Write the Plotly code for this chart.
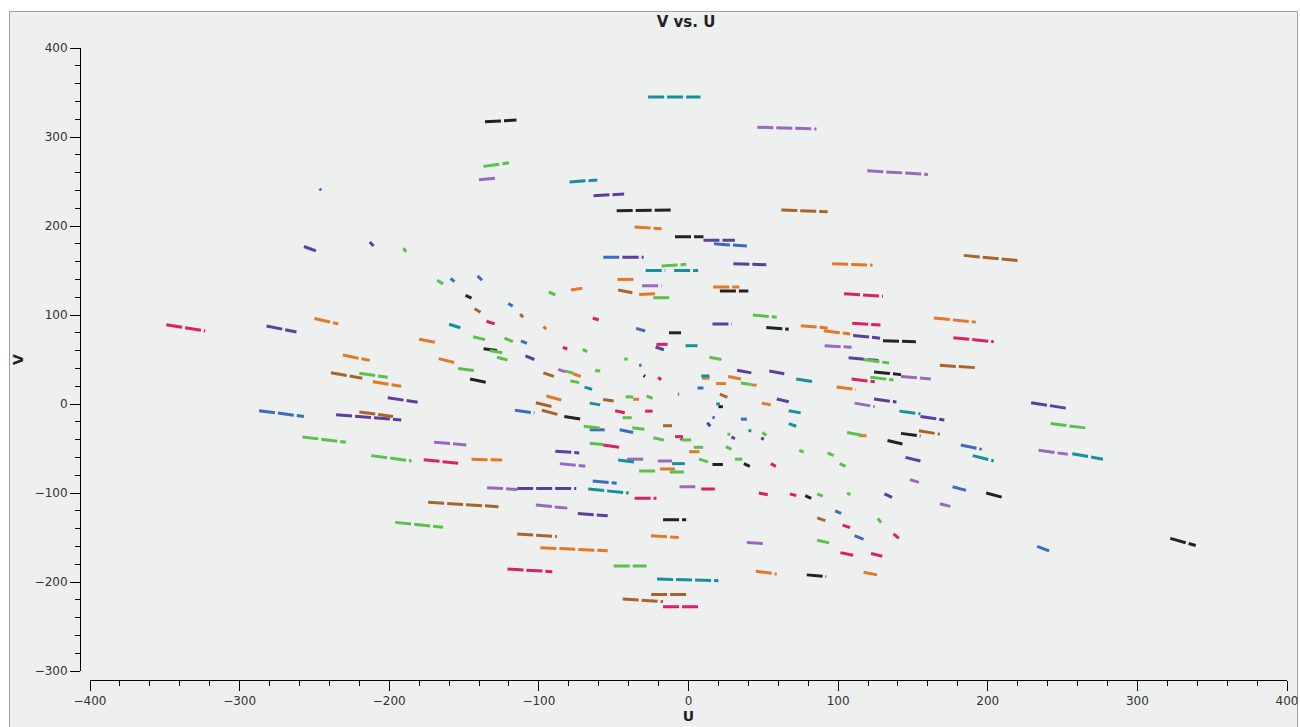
import plotly.graph_objects as go

# Each segment: (u_start, u_end, v_start, v_end)
black = [(-136,-115,317,319),(-48,-10,217,218),(-9,10,188,188),(21,40,127,127),(-13,-5,80,80),
         (52,67,86,84),(130,152,71,70),(124,142,36,33),(-149,-145,122,119),(-137,-128,62,60),
         (-146,-134,28,24),(-30,-29,32,31),(20,23,-3,-3),(-83,-72,-14,-17),(142,155,-33,-36),
         (133,143,-41,-45),(16,23,-68,-68),(37,41,-67,-70),(-17,-1.5,-130,-130),(79,92,-192,-194),
         (78,82,-103,-106),(199,210,-100,-105),(322,339,-151,-159)]
blue = [(-246.5,-245.5,242,240),(-57,-44,165,165),(17,39,180,177.5),(-159,-156.4,141,137.4),
        (-141,-138,144,139),(-120.5,-117.5,113,110),(-35,-29,85,82),(-112,-108,71,68),
        (-33,-31.4,43.5,43.5),(6,10,18,18),(-116,-103,-7,-10),(-287,-257,-7.5,-14),(-66,-56,-29,-29),
        (-46,-37,-29,-32),(16,17.6,-15,-15.5),(35,39,-17,-17),(182,196,-46,-51),(-64,-48,-86.5,-89),
        (176.5,185.5,-93,-97),(98,102,-120,-123),(111,117,-148,-152),(233,241,-160,-165)]
indigo = [(-63.5,-43,234,236),(10,31,184,184),(-44,-30,165,165),(30,52,157.6,156.5),(-257,-249,177,172),
          (-213,-210.5,182,177.5),(16,29,90,90),(110,128,77,74),(107,127,52,49),(124,139,5.6,2.2),
          (155,171,-14,-18),(145,155,-60,-64),(229,253.5,1.5,-5),(-282,-262,87.6,81),(-201,-181,7,2),
          (-235.5,-192,-12,-18),(-109,-103,54,50),(-22,-16.5,64,61),(32.5,42,38,35),(54,64,37,34),
          (59,67,5.6,2.6),(12.5,14.6,-21,-25),(28.7,31,-37,-39),(48.6,50.3,-38,-40),(-5.3,-4.4,-39,-40),
          (-89,-73,-53,-55),(-114.5,-75,-95,-95),(-74,-54,-123,-125.5),(131,136,-101,-105)]
lilac = [(46,85.5,311,309),(-140,-128,252,254),(119.5,160,262,258),(-31,-18,133,133),(142,162,31,28),
         (91,109,65.5,63.7),(111,124.5,1,-3),(148,154,-85,-88),(234,253.5,-52,-56.5),(-170,-148.5,-43,-46),
         (-87,-82,39,36),(-7.2,-6.2,11,11),(-20.5,-11,-64,-64),(-41,-30,-62,-62),(-86,-69,-67,-70),
         (-6,4.5,-93,-93),(-134.6,-114.5,-94,-96),(-102,-81,-113.5,-117),(39,51.5,-155.5,-157),
         (168,175,-112,-115)]
orange = [(-36,-18,199,197),(-47.5,-35.5,140,140),(-33,-22,123,124),(16.5,34,131.5,131.5),(96,123,157.6,156),
          (164,192,96.6,92),(-78.6,-71,128,130),(-97,-95,87,84),(75,93,88,85.4),(90.5,108,82.4,78.7),
          (-250,-234,96,90),(-231,-213,55,49),(-211,-192,25,20),(-180,-168,72.7,69),(-167,-155,51,46),
          (-77,-72,34,31),(9,14,29,29),(18.5,25,23,23),(26.5,35,31,28),(42,45.5,21.5,21),(99,112,19,16.5),
          (-95,-85,9,4.5),(-37,-33,5.3,5.3),(49,55,1,-1),(114,119,-35.6,-35.6),(0.4,7.3,-53.6,-53.6),
          (-19,-9,-73,-73),(-145,-124.5,-62,-63),(-25,-6.5,-148,-150),(-99,-54,-161.5,-165),
          (45,59,-188,-191),(117,126,-189,-192)]
brown = [(62,93,218,216),(184,221,167,161),(-47,-37.5,128,125),(168,192,43.4,40.8),(-143,-139,107,103),
         (-112.5,-110.5,101,97.4),(-239,-218,35,29),(-220,-197.5,-9,-14),(-97,-90,35,31),(21,26,11,7.5),
         (-102,-91,1.5,-3),(-98,-87,-7,-12),(-57,-50,5,3.4),(-17,-11,-24.4,-24.4),(154,168,-30,-34),
         (-174,-127,-110.4,-115.4),(-114.5,-88,-146,-149),(86,91.4,-128,-131),(-25,-1.5,-214,-214),
         (-44,-17,-219,-222)]
green = [(-137,-120,267,271),(-190.5,-188.7,175,171),(-18,-1.5,155,157),(-23.6,-11,119.4,119.4),
         (-168,-164,139,135),(-93.4,-89,126,122.5),(43,59,100,97.4),(117,134,50,46),(121.5,137,30,27),
         (-144,-136,75.6,72.3),(-154,-142,40,37.4),(-133,-124.5,60,57.6),(-123,-117.4,74,70),
         (-128,-121,52.5,49.4),(-70.7,-67.7,61.4,58.8),(14,22,52.5,50),(-43,-40.6,50.5,50.5),
         (-62.4,-59,37.4,37.4),(-82,-77,37,34.5),(-79,-73,26,24),(-42,-37,8,8),(-28,-24,9,6.4),
         (35,42,23.6,22),(-220,-201,34.5,30),(-258,-229,-37,-43),(-212,-185,-58,-64),(-196,-164,-133,-138.5),
         (-44,-38,-15.4,-15.4),(-70,-59,-25,-27),(-37.6,-29.4,-26.6,-28.4),(-4.4,1.8,-40.4,-40.4),
         (-23.6,-16.5,-38,-40.4),(3.5,9.8,-48.7,-48.7),(25,28.7,-48,-51),(31,36,-62,-62),(7,13,-62,-65),
         (-33,-21,-75.3,-75.3),(-12.5,-3,-76.4,-76.4),(-66,-57,-44,-45.5),(106,116,-32,-35),(26,28,-34,-34),
         (49.3,52,-32,-35),(74,77,-52,-54),(93,97,-55,-58),(101,105,-67,-70),(242,266,-22,-27),
         (-50,-28,-182,-182),(86,89.8,-101,-103.4),(106,108.2,-100,-102),(86,94,-153,-156),
         (126.5,128.7,-128.4,-133.3)]
teal = [(-27,8,345,345),(-79.5,-61,249.4,251.7),(-28.6,-15.5,150,150),(-9.6,6.5,150,150),
        (-160,-152.5,89.6,85.7),(-2,6,65.5,65.5),(8.5,14,31.5,31.5),(72,84,28,25),(-69.5,-64.4,19,16.5),
        (18.5,21,0,0),(-66,-59,1,-1),(141,155,-8,-11),(67,75,-7.5,-10),(67,72,-22,-25),(40,42,-30,-30),
        (-11,-2.5,-67,-67),(-47,-35,-63,-65.5),(190,204,-58,-64),(256.5,277,-56,-62),(-67,-40,-95.5,-100),
        (-21,20,-196.6,-198.5)]
crimson = [(104,130,124,121),(177,204,74.5,70),(109.4,128.3,90.7,88.8),(-349,-323,89,82),(-135,-129.5,93,90),
           (-84,-81,63.7,61.8),(-64,-60,96.6,94.4),(-21.4,-14,67,67),(109,124.5,28,25),(-20.3,-18.3,30,27),
           (-49,-42.6,-7.5,-9.8),(-29,-24,-8,-8),(-9,-3.6,-36.7,-36.7),(-57,-46,-46,-48.7),(55,58.4,-67,-70),
           (-177,-154,-62.6,-66.6),(8.5,17.6,-95.5,-95.5),(-36,-21.4,-106,-106),(-121,-91,-185.4,-188.4),
           (-17,6.5,-227.8,-227.8),(47,53,-100,-102),(67.7,72,-101,-103),(103,108,-136,-139),
           (101.5,110,-167,-170),(122,129.5,-168,-171),(137,140.6,-146,-151)]

groups = [(black, "#222222"), (blue, "#3a6cc0"), (indigo, "#5a3ea0"), (lilac, "#9a68bf"),
          (orange, "#e4782a"), (brown, "#a8652a"), (green, "#5cc04c"), (teal, "#16909c"),
          (crimson, "#dc1f66")]

fig = go.Figure()
for segs, col in groups:
    xs, ys = [], []
    for u0, u1, v0, v1 in segs:
        xs += [u0, u1, None]
        ys += [v0, v1, None]
    fig.add_trace(go.Scatter(x=xs, y=ys, mode="lines",
                             line=dict(color=col, width=3, dash="16px,3px"),
                             showlegend=False, hoverinfo="skip"))

W, H = 1300, 727
L, T = 80, 48
R = W - 1287
B = H - 680
pw, ph = W - L - R, H - T - B

def px(x):  # page pixel x -> paper fraction
    return (x - L) / pw

def py(y):  # page pixel y -> paper fraction
    return (H - B - y) / ph

fig.add_shape(type="rect", xref="paper", yref="paper", x0=px(9.5), x1=px(1297.5), y0=py(760), y1=py(11.5),
              line=dict(color="#a0a0a0", width=1), fillcolor="#eeefef", layer="below")

tickfont = dict(family="DejaVu Sans", size=12, color="#333333")
fig.update_layout(
    width=W, height=H, autosize=False,
    margin=dict(l=L, r=R, t=T, b=B, autoexpand=False),
    paper_bgcolor="white", plot_bgcolor="rgba(0,0,0,0)",
    title=dict(text="<b>V vs. U</b>", x=px(686), xref="paper", xanchor="center",
               y=1 - 22 / H, yanchor="middle",
               font=dict(family="DejaVu Sans", size=15, color="#222222")),
    xaxis=dict(domain=[px(90), 1], anchor="free", position=0, range=[-400, 400], automargin=False,
               tickmode="linear", tick0=-400, dtick=100, ticks="outside", ticklen=10, tickwidth=1,
               tickcolor="black", showline=True, linecolor="black", linewidth=1, showgrid=False,
               zeroline=False, tickfont=tickfont,
               minor=dict(dtick=20, ticks="outside", ticklen=5, tickcolor="black", showgrid=False),
               title=dict(text="<b>U</b>", standoff=2, font=dict(family="DejaVu Sans", size=14, color="#222222"))),
    yaxis=dict(domain=[py(671), 1], anchor="free", position=0, range=[-300, 400], automargin=False,
               tickmode="linear", tick0=-300, dtick=100, ticks="outside", ticklen=10, tickwidth=1,
               tickcolor="black", showline=True, linecolor="black", linewidth=1, showgrid=False,
               zeroline=False, tickfont=tickfont,
               minor=dict(dtick=20, ticks="outside", ticklen=5, tickcolor="black", showgrid=False),
               title=dict(text="<b>V</b>", standoff=6, font=dict(family="DejaVu Sans", size=14, color="#222222"))),
)

fig.write_html("out.html", config={"displayModeBar": False},
               post_script="document.body.style.margin='0';document.body.style.overflow='hidden';")
